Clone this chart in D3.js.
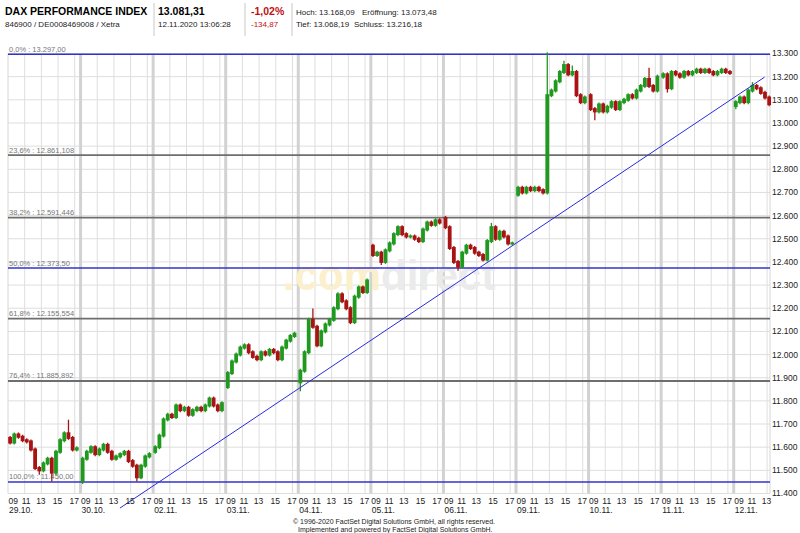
<!DOCTYPE html>
<html><head><meta charset="utf-8">
<script src="https://cdn.jsdelivr.net/npm/d3@7"></script>
<style>body{margin:0;background:#fff}svg{display:block;font-family:"Liberation Sans",Arial,sans-serif}</style>
</head><body><svg id="c" width="800" height="533"></svg>
<script>
// ---------- data ----------
const dayLabels = ["29.10.","30.10.","02.11.","03.11.","04.11.","05.11.","06.11.","09.11.","10.11.","11.11.","12.11."];
const hourTicks = [9, 11, 13, 15, 17];
const hourLabels = ["09","11","13","15","17"];
const yTickValues = [11400,11500,11600,11700,11800,11900,12000,12100,12200,12300,12400,12500,12600,12700,12800,12900,13000,13100,13200,13300];
// opening price of each trading day
const dayOpens = [11640, 11455, 11580, 11860, 11880, 12470, 12590, 12690, 13120, 13200, 13073];
// 30-minute closing prices per day (09:00 .. 17:30)
const c29_10 = [11620,11655,11645,11630,11625,11590,11510,11500,11530,11550,11490,11580,11630,11660,11640,11590,11595];
const c30_10 = [11550,11580,11600,11570,11590,11610,11580,11550,11560,11570,11580,11540,11520,11470,11520,11560,11570];
const c02_11 = [11600,11650,11720,11740,11730,11780,11760,11770,11740,11760,11770,11760,11780,11810,11780,11760,11790];
const c03_11 = [11920,11970,12000,12030,12040,12010,11990,11980,12010,12000,12020,12010,11980,12030,12060,12080,12090];
const c04_11 = [11930,12010,12150,12120,12040,12100,12130,12150,12200,12260,12230,12200,12140,12250,12290,12270,12320];
const c05_11 = [12430,12440,12400,12450,12480,12520,12550,12520,12510,12510,12500,12490,12540,12570,12560,12580,12570];
const c06_11 = [12550,12460,12400,12380,12440,12470,12460,12440,12430,12410,12490,12550,12500,12530,12510,12480,12480];
const c09_11 = [12720,12700,12720,12710,12720,12710,12700,13120,13140,13180,13220,13250,13210,13220,13120,13090,13110];
const c10_11 = [13060,13050,13080,13050,13070,13090,13060,13090,13100,13120,13110,13140,13160,13190,13160,13140,13200];
const c11_11 = [13210,13150,13220,13210,13200,13220,13210,13220,13230,13220,13230,13220,13210,13220,13230,13220,13216];
const c12_11 = [13090,13110,13090,13140,13160,13150,13130,13110,13081];
const closesByDay = [c29_10,c30_10,c02_11,c03_11,c04_11,c05_11,c06_11,c09_11,c10_11,c11_11,c12_11];
// extreme wicks [day, slot, value]
const highs = [[0,14,11710],[4,3,12190],[6,11,12560],[7,7,13297],[7,11,13260],[7,13,13240],[8,14,13230],[10,4,13168]];
const lows  = [[0,7,11490],[0,10,11460],[1,0,11450],[1,13,11460],[4,0,11850],[5,2,12395],[6,3,12370],[8,1,13020],[9,1,13140],[10,0,13068]];
// Fibonacci retracement
const fibValues = [13297.00, 12861.108, 12591.446, 12373.50, 12155.554, 11885.892, 11450.00];
const fibLabels = ["0,0% : 13.297,00","23,6% : 12.861,108","38,2% : 12.591,446","50,0% : 12.373,50","61,8% : 12.155,554","76,4% : 11.885,892","100,0% : 11.450,00"];
const fibBlue = [true,false,false,true,false,false,true];
// trend line end points
const trendPoints = [{day:1, hour:13.72, value:11337},{day:10, hour:12.7, value:13198}];

// ---------- scales ----------
const DAYLEN = 8.7;
const u = (d, h) => d * DAYLEN + (h - 9);
const svg = d3.select("#c");
const L = 8, R = 770, T = 53.5, B = 493.5;
const x = d3.scaleLinear().domain([0, 10 * DAYLEN + 4.35]).range([L, R]);
const y = d3.scaleLinear().domain([11400, 13300]).range([B, T]);
const de = d3.formatLocale({decimal: ",", thousands: ".", grouping: [3], currency: ["", "€"]});
const fmt = de.format(",");

// ---------- header ----------
const hdr = svg.append("g");
const txt = (g, s, xx, yy, size, opts = {}) => g.append("text").attr("x", xx).attr("y", yy)
  .attr("font-size", size).attr("fill", opts.fill || "#000").attr("font-weight", opts.bold ? "bold" : "normal").text(s);
txt(hdr, "DAX PERFORMANCE INDEX", 5, 15, 10.5, {bold: true});
txt(hdr, "846900 / DE0008469008 / Xetra", 5, 27, 8, {fill: "#222"});
txt(hdr, "13.081,31", 158, 15, 10.5, {bold: true});
txt(hdr, "12.11.2020 13:06:28", 158, 27, 8, {fill: "#222"});
txt(hdr, "-1,02%", 251, 15, 10.5, {bold: true, fill: "#c01010"});
txt(hdr, "-134,87", 251, 27, 8, {fill: "#c01010"});
txt(hdr, "Hoch: 13.168,09", 296, 15, 8, {fill: "#222"});
txt(hdr, "Eröffnung: 13.073,48", 362, 15, 8, {fill: "#222"});
txt(hdr, "Tief: 13.068,19", 296, 27, 8, {fill: "#222"});
txt(hdr, "Schluss: 13.216,18", 354, 27, 8, {fill: "#222"});
[154, 245, 292].forEach(xx => hdr.append("line").attr("x1", xx).attr("x2", xx).attr("y1", 3).attr("y2", 36).attr("stroke", "#c8c8c8"));

// ---------- grid ----------
const grid = svg.append("g");
grid.selectAll(".hg").data(yTickValues).join("line")
  .attr("x1", L).attr("x2", R).attr("y1", d => y(d)).attr("y2", d => y(d))
  .attr("stroke", "#dedede").attr("stroke-width", 1);
const hourGrid = [];
dayLabels.forEach((dl, d) => hourTicks.slice(1).forEach(h => { if (u(d, h) <= x.domain()[1]) hourGrid.push(u(d, h)); }));
grid.selectAll(".vg").data(hourGrid).join("line")
  .attr("x1", d => x(d)).attr("x2", d => x(d)).attr("y1", T).attr("y2", B)
  .attr("stroke", "#dedede").attr("stroke-width", 1);
grid.selectAll(".dg").data(dayLabels.slice(1)).join("line")
  .attr("x1", (d, i) => x(u(i + 1, 9))).attr("x2", (d, i) => x(u(i + 1, 9))).attr("y1", T).attr("y2", B)
  .attr("stroke", "#d2d2d2").attr("stroke-width", 3);
[L, R].forEach(xx => grid.append("line").attr("x1", xx).attr("x2", xx).attr("y1", T).attr("y2", B).attr("stroke", "#d6d6d6"));

// ---------- watermark ----------
const wm = svg.append("text").attr("x", 283).attr("y", 290).attr("font-size", 42).attr("font-weight", "bold");
wm.append("tspan").attr("fill", "#fcf0cc").text(".com");
wm.append("tspan").attr("fill", "#ebebeb").text("direct");

// ---------- fibonacci lines ----------
const fib = svg.append("g");
fibValues.forEach((v, i) => {
  fib.append("line").attr("x1", L).attr("x2", R).attr("y1", y(v)).attr("y2", y(v))
    .attr("stroke", fibBlue[i] ? "#3333cc" : "#6e6e6e").attr("stroke-width", fibBlue[i] ? 1.5 : 1.8);
  fib.append("text").attr("x", L + 1).attr("y", y(v) - 2.5).attr("font-size", 7.5).attr("fill", "#777").text(fibLabels[i]);
});

// ---------- candles ----------
const candles = [];
closesByDay.forEach((arr, d) => arr.forEach((c, k) => {
  const o = k === 0 ? dayOpens[d] : arr[k - 1];
  candles.push({d, k, o, c, h: Math.max(o, c), l: Math.min(o, c)});
}));
highs.forEach(([d, k, v]) => { const cd = candles.find(e => e.d === d && e.k === k); if (cd) cd.h = Math.max(cd.h, v); });
lows.forEach(([d, k, v]) => { const cd = candles.find(e => e.d === d && e.k === k); if (cd) cd.l = Math.min(cd.l, v); });
const cx = c => x(u(c.d, 9 + c.k * 0.5 + 0.25));
const cg = svg.append("g");
const col = c => c.c >= c.o ? "#1f9a1f" : "#a81414";
cg.selectAll(".w").data(candles).join("line")
  .attr("x1", cx).attr("x2", cx).attr("y1", c => y(c.h) - 2).attr("y2", c => y(c.l) + 2)
  .attr("stroke", col).attr("stroke-width", 1.3);
cg.selectAll(".b").data(candles).join("rect")
  .attr("x", c => cx(c) - 1.9).attr("width", 3.8)
  .attr("y", c => y(Math.max(c.o, c.c)) - 1)
  .attr("height", c => Math.abs(y(c.o) - y(c.c)) + 2)
  .attr("fill", col);

// ---------- trend line ----------
svg.append("line")
  .attr("x1", x(u(trendPoints[0].day, trendPoints[0].hour))).attr("y1", y(trendPoints[0].value))
  .attr("x2", x(u(trendPoints[1].day, trendPoints[1].hour))).attr("y2", y(trendPoints[1].value))
  .attr("stroke", "#2a2ae0").attr("stroke-width", 1);

// ---------- axes ----------
const ax = svg.append("g").attr("font-size", 8.5).attr("fill", "#111");
yTickValues.forEach(v => ax.append("text").attr("x", R + 2).attr("y", y(v)).attr("dy", "0.35em").attr("fill", "#222").text(fmt(v)));
dayLabels.forEach((dl, d) => {
  ax.append("text").attr("x", x(u(d, 9)) + 1).attr("y", 512.5).attr("fill", "#222").text(dl);
  hourTicks.forEach((h, j) => {
    if (u(d, h) > x.domain()[1] + 0.01) return;
    const t = ax.append("text").attr("y", 503.5).attr("fill", "#222").text(hourLabels[j]);
    if (j === 0) t.attr("x", x(u(d, h)) + 0.5);
    else if (j === 1) t.attr("x", x(u(d, h)) + 1.5).attr("text-anchor", "middle");
    else t.attr("x", x(u(d, h)) - 0.5).attr("text-anchor", "middle");
  });
});

// ---------- footer ----------
txt(svg, "© 1996-2020 FactSet Digital Solutions GmbH, all rights reserved.", 293, 523.5, 7, {fill: "#222"});
txt(svg, "Implemented and powered by  FactSet Digital Solutions GmbH.", 298, 531.5, 7, {fill: "#222"});
</script></body></html>
